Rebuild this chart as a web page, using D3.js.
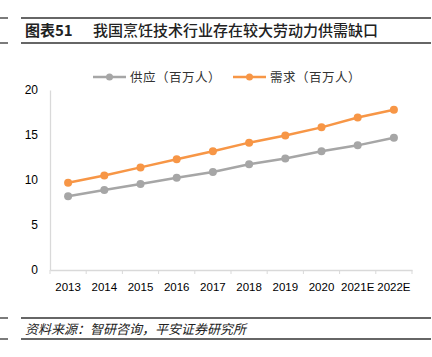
<!DOCTYPE html>
<html><head><meta charset="utf-8">
<script src="https://cdn.jsdelivr.net/npm/d3@7"></script>
<style>body{margin:0;background:#fff;}svg{display:block;}</style>
</head><body>
<script>
const categories = ["2013","2014","2015","2016","2017","2018","2019","2020","2021E","2022E"];
const supply = [8.2, 8.9, 9.55, 10.25, 10.9, 11.75, 12.4, 13.2, 13.85, 14.7];
const demand = [9.7, 10.5, 11.4, 12.3, 13.2, 14.15, 14.95, 15.85, 16.95, 17.8];
const yTicks = [0, 5, 10, 15, 20];
const seriesNames = ["供应（百万人）", "需求（百万人）"];
const colors = ["#A6A6A6", "#F79646"];
const title1 = "图表51";
const title2 = "我国烹饪技术行业存在较大劳动力供需缺口";
const source = "资料来源：智研咨询，平安证券研究所";

const W = 432, H = 357;
const svg = d3.select("body").append("svg").attr("width", W).attr("height", H);
const font = "'Noto Sans CJK SC', sans-serif";

// header lines
[18, 43].forEach(y => {
  svg.append("line").attr("x1",0).attr("x2",8).attr("y1",y).attr("y2",y).attr("stroke","#333").attr("stroke-width",1.3);
  svg.append("line").attr("x1",21).attr("x2",431).attr("y1",y).attr("y2",y).attr("stroke","#333").attr("stroke-width",1.3);
});
svg.append("text").attr("x",25).attr("y",36).attr("font-family",font).attr("font-size",15).attr("font-weight","bold").attr("fill","#222").text(title1);
svg.append("text").attr("x",93).attr("y",36).attr("font-family",font).attr("font-size",15).attr("font-weight",500).attr("fill","#222").text(title2);

// footer lines
[318, 339].forEach(y => {
  svg.append("line").attr("x1",0).attr("x2",8).attr("y1",y).attr("y2",y).attr("stroke","#333").attr("stroke-width",1.3);
  svg.append("line").attr("x1",21).attr("x2",431).attr("y1",y).attr("y2",y).attr("stroke","#333").attr("stroke-width",1.3);
});
svg.append("text").attr("x",25).attr("y",333.5).attr("font-family",font).attr("font-size",13).attr("font-style","italic").attr("fill","#222").text(source);

const x = d3.scaleBand().domain(categories).range([50, 412]);
const y = d3.scaleLinear().domain([0, 20]).range([270, 90]);

// axes
const yAxis = svg.append("g").attr("transform","translate(50,0)")
  .call(d3.axisLeft(y).tickValues(yTicks).tickSize(0).tickPadding(12));
yAxis.select(".domain").attr("stroke","#D9D9D9").attr("stroke-width",1.3);
yAxis.selectAll("text").attr("font-family","'Liberation Sans', Arial, sans-serif").attr("font-size",12).attr("fill","#000");

const xAxis = svg.append("g").attr("transform","translate(0,270)")
  .call(d3.axisBottom(x).tickSize(0).tickPadding(13));
xAxis.select(".domain").attr("stroke","#D9D9D9").attr("stroke-width",1.3);
xAxis.selectAll("text").attr("font-family","'Liberation Sans', Arial, sans-serif").attr("font-size",11.5).attr("fill","#000");
// tick marks at band boundaries
const bounds = categories.map(c => x(c)).concat([x.range()[1]]);
svg.append("g").selectAll("line").data(bounds).join("line")
  .attr("x1",d=>d).attr("x2",d=>d).attr("y1",270).attr("y2",274)
  .attr("stroke","#D9D9D9").attr("stroke-width",1);

const cx = c => x(c) + x.bandwidth()/2;
const line = d3.line().x((d,i)=>cx(categories[i])).y(d=>y(d));
[supply, demand].forEach((s, k) => {
  svg.append("path").datum(s).attr("d", line).attr("fill","none").attr("stroke",colors[k]).attr("stroke-width",2.5);
  svg.append("g").selectAll("circle").data(s).join("circle")
    .attr("cx",(d,i)=>cx(categories[i])).attr("cy",d=>y(d)).attr("r",4).attr("fill",colors[k]);
});

// legend
const legX = [93, 233];
seriesNames.forEach((n,k) => {
  const g = svg.append("g");
  g.append("line").attr("x1",legX[k]).attr("x2",legX[k]+33).attr("y1",77).attr("y2",77).attr("stroke",colors[k]).attr("stroke-width",2.5);
  g.append("circle").attr("cx",legX[k]+16.5).attr("cy",77).attr("r",3.5).attr("fill",colors[k]);
  g.append("text").attr("x",legX[k]+37).attr("y",81.5).attr("font-family",font).attr("font-size",12.5).attr("letter-spacing",0.5).attr("fill","#333").text(n);
});
</script>
</body></html>
